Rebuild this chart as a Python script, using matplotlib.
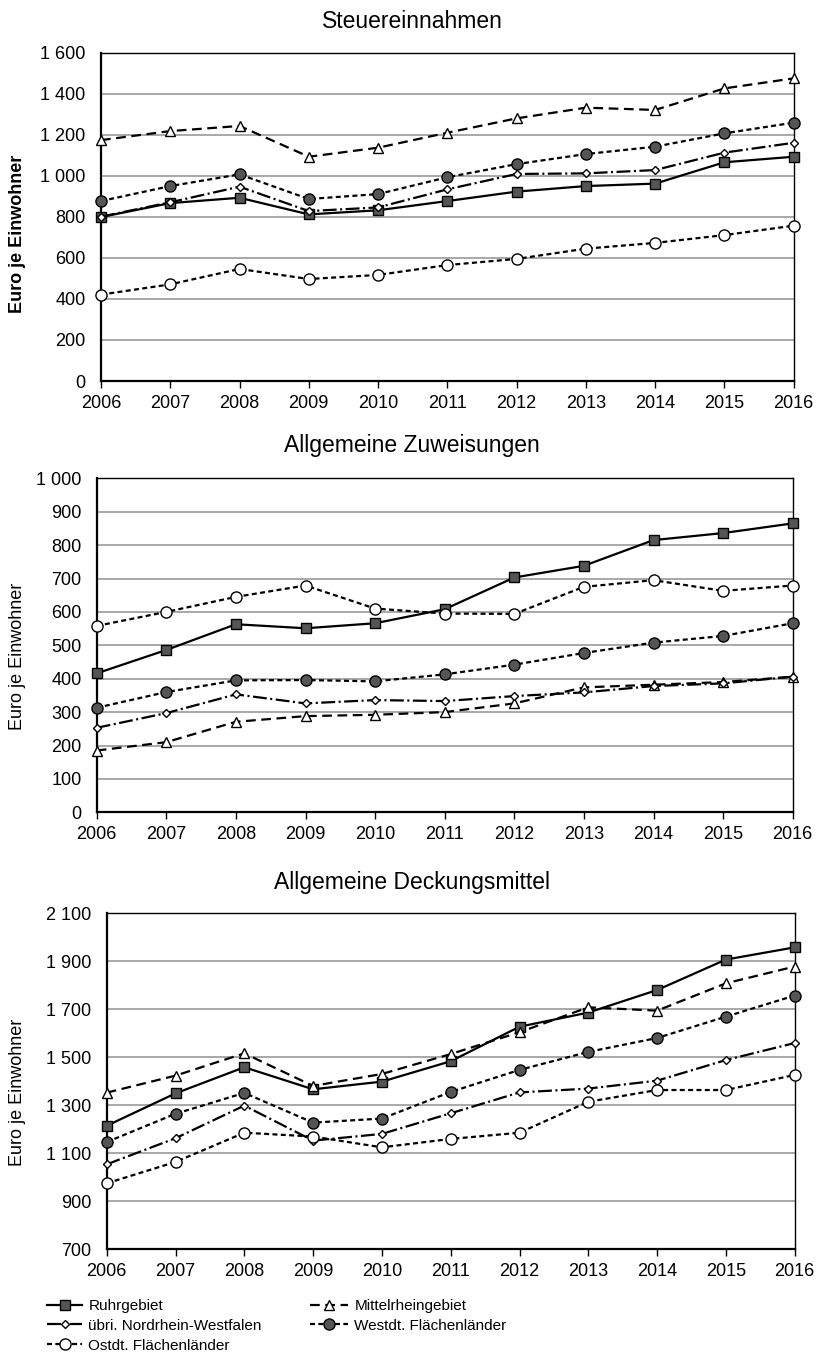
import matplotlib
matplotlib.use("Agg")
import matplotlib.pyplot as plt
from matplotlib import font_manager
from matplotlib.lines import Line2D

years = [2006, 2007, 2008, 2009, 2010, 2011, 2012, 2013, 2014, 2015, 2016]

series_names = ["Ruhrgebiet", "Mittelrheingebiet", "übri. Nordrhein-Westfalen",
                "Westdt. Flächenländer", "Ostdt. Flächenländer"]

# Steuereinnahmen
steuer_ruhr = [799, 867, 893, 812, 832, 877, 923, 950, 962, 1066, 1093]
steuer_mittel = [1174, 1218, 1243, 1093, 1137, 1210, 1280, 1332, 1321, 1426, 1475]
steuer_nrw = [801, 871, 947, 828, 846, 934, 1009, 1012, 1028, 1113, 1161]
steuer_west = [877, 950, 1007, 887, 911, 993, 1057, 1106, 1142, 1207, 1259]
steuer_ost = [421, 471, 546, 497, 517, 565, 595, 645, 673, 711, 757]

# Allgemeine Zuweisungen
zuw_ruhr = [416, 486, 563, 551, 566, 608, 703, 738, 815, 836, 865]
zuw_mittel = [185, 210, 271, 288, 292, 300, 326, 374, 382, 390, 406]
zuw_nrw = [253, 297, 353, 326, 336, 333, 348, 359, 378, 386, 406]
zuw_west = [313, 360, 395, 396, 392, 413, 442, 477, 508, 528, 566]
zuw_ost = [558, 600, 645, 679, 610, 595, 594, 675, 695, 663, 679]

# Allgemeine Deckungsmittel
deck_ruhr = [1214, 1349, 1458, 1366, 1398, 1483, 1627, 1686, 1780, 1907, 1958]
deck_mittel = [1352, 1423, 1516, 1380, 1430, 1513, 1604, 1708, 1694, 1808, 1878]
deck_nrw = [1053, 1162, 1298, 1152, 1180, 1266, 1353, 1369, 1402, 1488, 1559]
deck_west = [1146, 1264, 1351, 1227, 1244, 1355, 1447, 1522, 1580, 1669, 1757]
deck_ost = [974, 1063, 1185, 1169, 1124, 1159, 1185, 1314, 1363, 1363, 1426]

titles = ["Steuereinnahmen", "Allgemeine Zuweisungen", "Allgemeine Deckungsmittel"]
ylabel = "Euro je Einwohner"

plt.rcParams['font.family'] = ['Liberation Sans', 'DejaVu Sans']
plt.rcParams['lines.scale_dashes'] = False

names = {f.name for f in font_manager.fontManager.ttflist}
narrow = 'Liberation Sans Narrow' in names

DARK = '#555555'
styles = [
    dict(ls='-', marker='s', ms=7, mfc=DARK, mec='black', mew=1.0),
    dict(ls=(0, (7, 4)), marker='^', ms=6.5, mfc='white', mec='black', mew=1.0),
    dict(ls=(0, (10, 2.5, 1.5, 2.5)), marker='D', ms=4.5, mfc='white', mec='black', mew=1.0),
    dict(ls=(0, (3.6, 2.4)), marker='o', ms=8, mfc=DARK, mec='black', mew=1.0),
    dict(ls=(0, (3.6, 2.4)), marker='o', ms=8, mfc='white', mec='black', mew=1.0),
]

fig = plt.figure(figsize=(8.16, 13.6), dpi=100)
W, H = 816, 1360

def rect(l, t, r, b):
    return [l / W, 1 - b / H, (r - l) / W, (b - t) / H]

panels = [
    dict(rect=rect(101, 52.7, 793.7, 381), data=[steuer_ruhr, steuer_mittel, steuer_nrw, steuer_west, steuer_ost],
         ylim=(0, 1600), yticks=list(range(0, 1601, 200)), title_y=22, ylab_y=234, bold=True),
    dict(rect=rect(96.7, 478.3, 792.7, 812.3), data=[zuw_ruhr, zuw_mittel, zuw_nrw, zuw_west, zuw_ost],
         ylim=(0, 1000), yticks=list(range(0, 1001, 100)), title_y=446, ylab_y=656, bold=False),
    dict(rect=rect(106.7, 913.3, 794.7, 1249), data=[deck_ruhr, deck_mittel, deck_nrw, deck_west, deck_ost],
         ylim=(700, 2100), yticks=list(range(700, 2101, 200)), title_y=882, ylab_y=1092, bold=False),
]

def fmt(v):
    return f"{v:,}".replace(",", " ")

for i, p in enumerate(panels):
    ax = fig.add_axes(p['rect'])
    ax.set_xlim(2006, 2016)
    ax.set_ylim(*p['ylim'])
    ax.set_yticks(p['yticks'])
    ax.set_yticklabels([fmt(v) for v in p['yticks']], fontsize=13)
    ax.set_xticks(years)
    ax.set_xticklabels([str(y) for y in years], fontsize=13)
    ax.tick_params(axis='y', length=0, pad=11)
    ax.tick_params(axis='x', direction='out', length=5, width=1, pad=5)
    ax.grid(axis='y', color='#999999', lw=1.2, zorder=0)
    ax.set_axisbelow(True)
    for s in ['left', 'bottom']:
        ax.spines[s].set_linewidth(1.6)
    for s in ['top', 'right']:
        ax.spines[s].set_linewidth(1.0)
    for vals, st in zip(p['data'], styles):
        ax.plot(years, vals, color='black', lw=1.6, clip_on=False, zorder=3, **st)
    fig.text(412 / W, 1 - p['title_y'] / H, titles[i], ha='center', va='center', fontsize=16.5)
    fig.text(18 / W, 1 - p['ylab_y'] / H, ylabel, ha='center', va='center', rotation=90,
             fontsize=13, fontweight='bold' if p['bold'] else 'normal')

handles = [Line2D([], [], color='black', lw=1.6, **st) for st in styles]
if narrow:
    lprops = dict(family='Liberation Sans Narrow', size=12)
else:
    lprops = dict(family='Liberation Sans', size=11)

leg1 = fig.legend([handles[0], handles[2], handles[4]], [series_names[0], series_names[2], series_names[4]],
                  loc='upper left', bbox_to_anchor=(47 / W, 1 - 1299 / H), frameon=False, prop=lprops,
                  handlelength=2.3, handletextpad=0.4, labelspacing=0.38, borderpad=0, borderaxespad=0)
leg2 = fig.legend([handles[1], handles[3]], [series_names[1], series_names[3]],
                  loc='upper left', bbox_to_anchor=(310 / W, 1 - 1299 / H), frameon=False, prop=lprops,
                  handlelength=2.5, handletextpad=0.4, labelspacing=0.38, borderpad=0, borderaxespad=0)

fig.savefig("out.png", dpi=100)
